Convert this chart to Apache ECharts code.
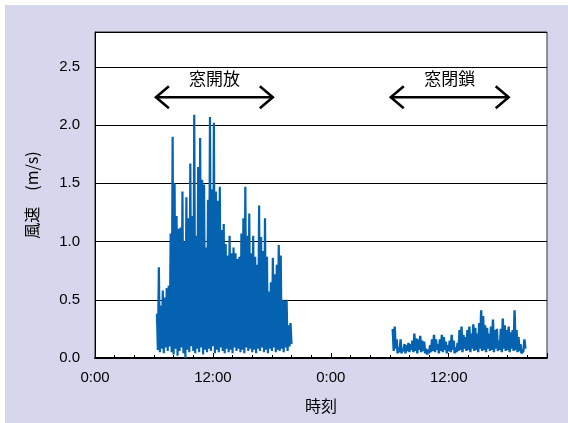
<!DOCTYPE html>
<html>
<head>
<meta charset="utf-8">
<script src="https://cdn.jsdelivr.net/npm/echarts/dist/echarts.min.js"></script>
<style>
  html, body { margin: 0; padding: 0; background: #ffffff; }
  #chart { width: 568px; height: 423px; }
</style>
</head>
<body>
<div id="chart"></div>
<script>
// Time axis (hours from the first midnight) and its labels
const tickHours = [0, 12, 24, 36];
const tickLabels = ['0:00', '12:00', '0:00', '12:00'];
const speedTicks = [0, 0.5, 1.0, 1.5, 2.0, 2.5];
const speedLabels = ['0.0', '0.5', '1.0', '1.5', '2.0', '2.5'];

// Wind speed (m/s), sampled every 0.1 h
const sampleStep = 0.1;

// Day 1, window open
const openStart = 6.3;
const windOpen = [
  0.38, 0.07, 0.78, 0.05, 0.45, 0.08, 0.58, 0.04, 0.52, 0.09,
  0.60, 0.06, 0.62, 0.10, 1.07, 0.05, 1.90, 0.03, 1.50, 0.08,
  1.22, 0.02, 1.11, 0.06, 1.12, 0.09, 1.43, 0.04, 1.00, 0.00,
  1.38, 0.07, 1.20, 0.05, 1.67, 0.10, 1.22, 0.06, 2.09, 0.04,
  1.05, 0.08, 1.64, 0.05, 1.89, 0.09, 1.53, 0.03, 1.49, 0.07,
  0.95, 0.05, 1.36, 0.08, 2.07, 0.06, 1.45, 0.10, 2.02, 0.04,
  1.43, 0.07, 1.35, 0.05, 1.47, 0.09, 1.10, 0.06, 1.15, 0.04,
  0.98, 0.08, 0.88, 0.05, 1.05, 0.07, 0.90, 0.04, 0.95, 0.09,
  0.90, 0.06, 0.85, 0.08, 0.87, 0.05, 1.07, 0.07, 1.20, 0.04,
  1.47, 0.09, 1.05, 0.06, 1.24, 0.08, 0.90, 0.05, 1.05, 0.07,
  0.87, 0.04, 0.80, 0.08, 1.31, 0.06, 1.04, 0.09, 0.92, 0.05,
  1.20, 0.07, 0.87, 0.04, 0.57, 0.08, 0.65, 0.06, 0.86, 0.09,
  0.72, 0.05, 0.80, 0.07, 0.97, 0.06, 0.88, 0.08, 0.50, 0.05,
  0.49, 0.09, 0.50, 0.06, 0.28, 0.10, 0.30, 0.12
];

// Day 2, window closed
const closedStart = 30.3;
const windClosed = [
  0.25, 0.06, 0.27, 0.08, 0.16, 0.04, 0.09, 0.05, 0.16, 0.04,
  0.08, 0.06, 0.12, 0.04, 0.11, 0.06, 0.13, 0.05, 0.12, 0.07,
  0.15, 0.05, 0.21, 0.06, 0.17, 0.04, 0.16, 0.07, 0.19, 0.05,
  0.15, 0.06, 0.14, 0.04, 0.08, 0.03, 0.07, 0.04, 0.11, 0.05,
  0.16, 0.06, 0.20, 0.05, 0.16, 0.07, 0.12, 0.04, 0.16, 0.06,
  0.20, 0.05, 0.18, 0.07, 0.14, 0.04, 0.11, 0.06, 0.15, 0.05,
  0.20, 0.07, 0.15, 0.04, 0.09, 0.05, 0.13, 0.06, 0.24, 0.07,
  0.27, 0.05, 0.20, 0.08, 0.18, 0.06, 0.24, 0.07, 0.27, 0.05,
  0.21, 0.08, 0.29, 0.06, 0.26, 0.07, 0.21, 0.05, 0.30, 0.08,
  0.41, 0.06, 0.36, 0.07, 0.28, 0.05, 0.26, 0.08, 0.21, 0.06,
  0.27, 0.07, 0.33, 0.05, 0.24, 0.08, 0.25, 0.06, 0.15, 0.07,
  0.25, 0.05, 0.34, 0.08, 0.28, 0.06, 0.24, 0.07, 0.27, 0.05,
  0.22, 0.08, 0.24, 0.06, 0.41, 0.07, 0.24, 0.05, 0.18, 0.06,
  0.12, 0.04, 0.05, 0.06, 0.16, 0.08
];

// Window state periods (hours)
const periodNames = ['窓開放', '窓閉鎖'];
const periodFrom = [6.2, 30.1];
const periodTo = [18.1, 42.1];

const toPoints = (start, values) =>
  values.map((v, i) => [+(start + i * sampleStep).toFixed(2), v]);

const cjk = '"Noto Sans CJK JP", "Noto Sans CJK SC", sans-serif';
const latin = '"Liberation Sans", Arial, sans-serif';
const blue = '#0562b0';

const chart = echarts.init(document.getElementById('chart'), null, { renderer: 'canvas' });

chart.setOption({
  animation: false,
  backgroundColor: '#ffffff',
  graphic: [{
    type: 'rect',
    z: -10,
    shape: { x: 5, y: 5, width: 563, height: 418 },
    style: { fill: '#d6d6ec' },
    silent: true
  }],
  grid: {
    left: 95, right: 21, top: 32, bottom: 65,
    show: true,
    backgroundColor: '#ffffff',
    borderColor: '#333333',
    borderWidth: 1
  },
  xAxis: {
    type: 'value',
    min: 0,
    max: 46,
    interval: 12,
    name: '時刻',
    nameLocation: 'middle',
    nameGap: 40,
    nameTextStyle: { fontFamily: cjk, fontSize: 16, color: '#000' },
    axisLine: { show: true, onZero: false, lineStyle: { color: '#000', width: 2 } },
    axisTick: { show: true, inside: true, length: 5, lineStyle: { color: '#000', width: 1 } },
    minorTick: { show: true, splitNumber: 6, length: 3, lineStyle: { color: '#000', width: 1 } },
    splitLine: { show: false },
    axisLabel: {
      margin: 12,
      fontFamily: latin,
      fontSize: 15,
      color: '#000',
      showMaxLabel: false,
      formatter: v => {
        const i = tickHours.indexOf(v);
        return i >= 0 ? tickLabels[i] : '';
      }
    }
  },
  yAxis: {
    type: 'value',
    min: 0,
    max: 2.8,
    interval: 0.5,
    name: '風速　(m/s)',
    nameLocation: 'middle',
    nameGap: 55,
    nameTextStyle: { fontFamily: cjk, fontSize: 16, color: '#000' },
    axisLine: { show: true, lineStyle: { color: '#000', width: 1 } },
    axisTick: { show: false },
    splitLine: { show: true, lineStyle: { color: '#000', width: 1 } },
    axisLabel: {
      margin: 15,
      fontFamily: latin,
      fontSize: 15,
      color: '#000',
      showMaxLabel: false,
      formatter: v => {
        const i = speedTicks.findIndex(t => Math.abs(t - v) < 1e-6);
        return i >= 0 ? speedLabels[i] : '';
      }
    }
  },
  series: [
    {
      name: '窓開放',
      type: 'line',
      data: toPoints(openStart, windOpen),
      symbol: 'none',
      lineStyle: { color: blue, width: 2.2, join: 'bevel' },
      z: 3
    },
    {
      name: '窓閉鎖',
      type: 'line',
      data: toPoints(closedStart, windClosed),
      symbol: 'none',
      lineStyle: { color: blue, width: 2.4, join: 'bevel' },
      z: 3
    },
    {
      // double-headed arrows marking each window state period
      type: 'custom',
      z: 4,
      encode: { x: [0, 1], y: 2 },
      data: periodNames.map((n, i) => [periodFrom[i], periodTo[i], 2.24]),
      renderItem: (params, api) => {
        const p0 = api.coord([api.value(0), api.value(2)]);
        const p1 = api.coord([api.value(1), api.value(2)]);
        const y = p0[1];
        const hx = 13, hy = 11;
        const stroke = { stroke: '#000', lineWidth: 2.5, fill: null };
        return {
          type: 'group',
          children: [
            { type: 'line', shape: { x1: p0[0], y1: y, x2: p1[0], y2: y }, style: stroke },
            { type: 'polyline', shape: { points: [[p0[0] + hx, y - hy], [p0[0], y], [p0[0] + hx, y + hy]] }, style: stroke },
            { type: 'polyline', shape: { points: [[p1[0] - hx, y - hy], [p1[0], y], [p1[0] - hx, y + hy]] }, style: stroke },
            {
              type: 'text',
              style: {
                text: periodNames[params.dataIndex],
                x: (p0[0] + p1[0]) / 2,
                y: y - 19,
                align: 'center',
                verticalAlign: 'middle',
                fill: '#000',
                fontSize: 17,
                fontFamily: cjk
              }
            }
          ]
        };
      }
    }
  ]
});
</script>
</body>
</html>
